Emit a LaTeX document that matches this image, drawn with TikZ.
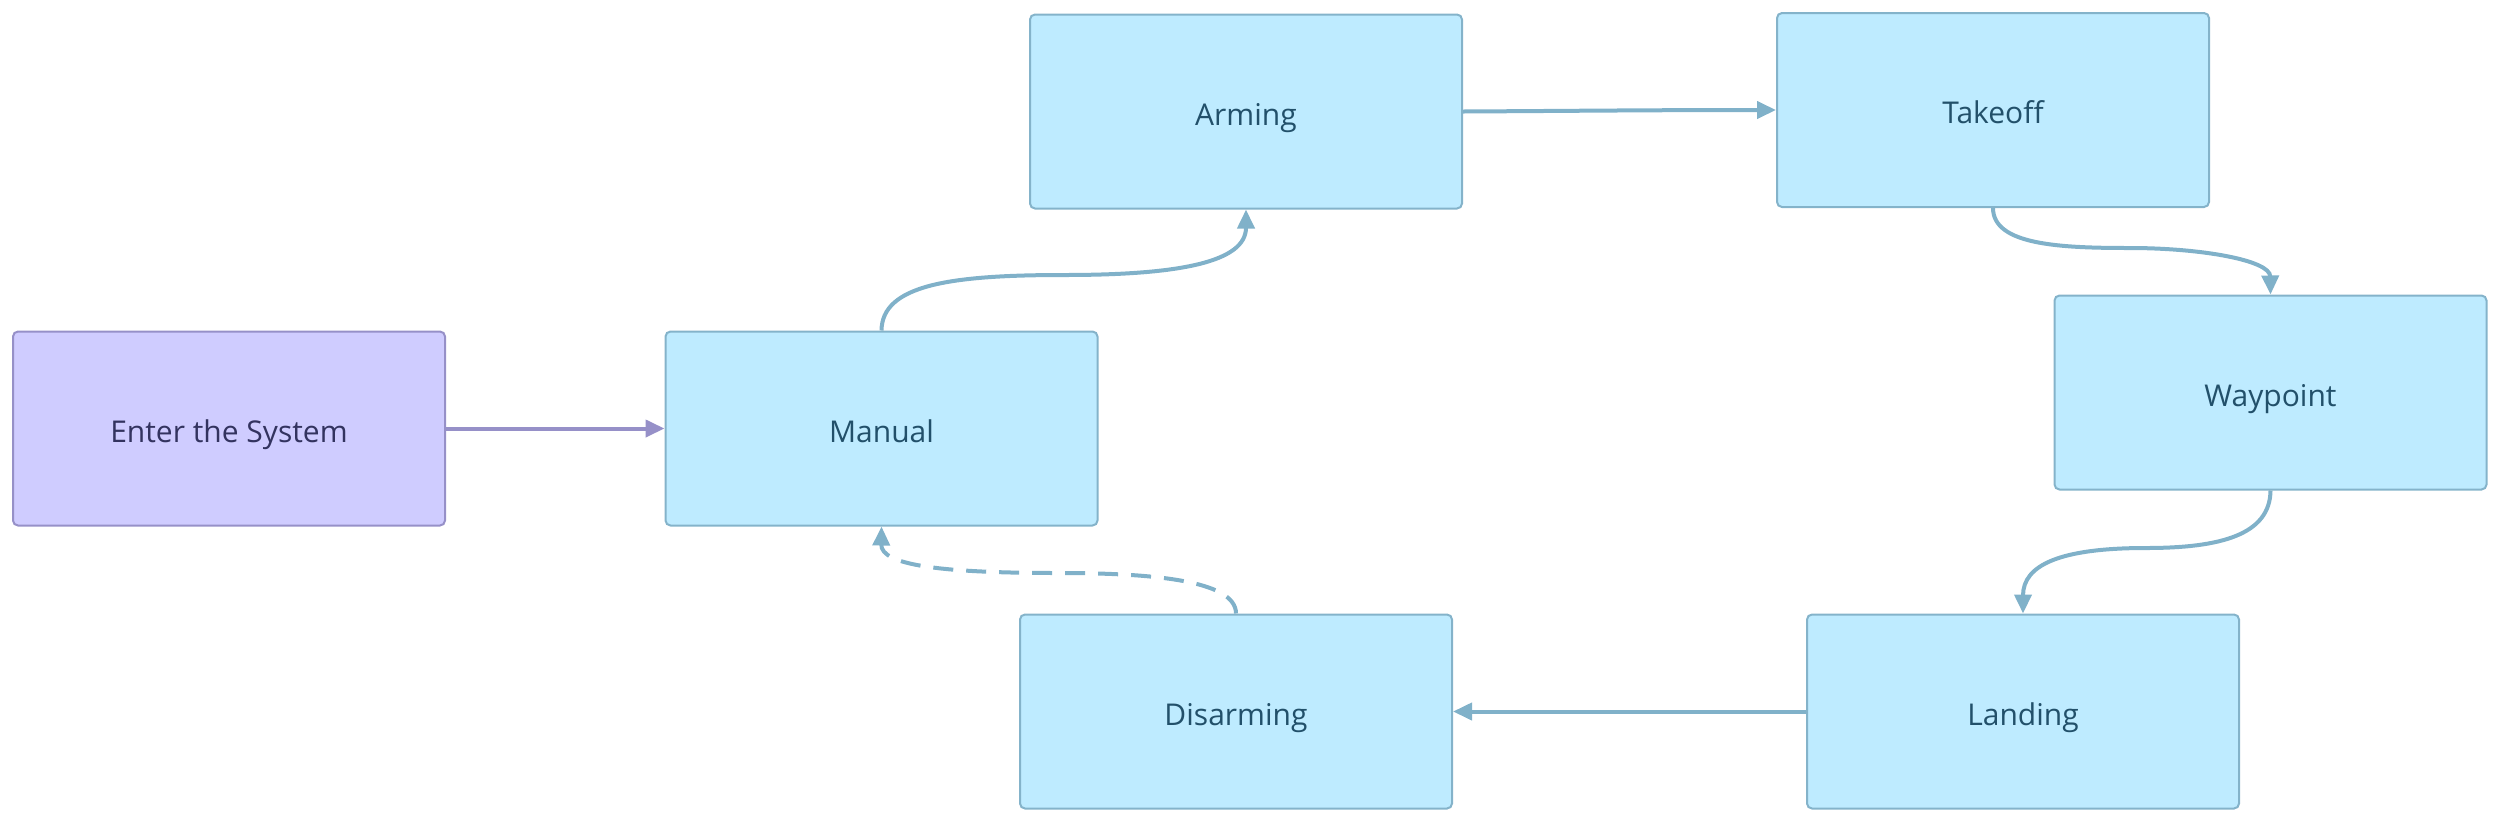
\documentclass[tikz,border=0pt]{standalone}
\usepackage{fontspec}
\setmainfont{Open Sans}
\usetikzlibrary{arrows.meta}
\definecolor{pfill}{HTML}{CFCCFF}
\definecolor{pline}{HTML}{9690C8}
\definecolor{ptext}{HTML}{33335F}
\definecolor{bfill}{HTML}{BEEBFF}
\definecolor{bline}{HTML}{84B3CA}
\definecolor{btext}{HTML}{22506A}
\definecolor{eline}{HTML}{80B1C9}
\tikzset{
  box/.style={draw=bline, fill=bfill, text=btext, line width=2pt, rounded corners=5pt,
    minimum width=432pt, minimum height=194pt, inner sep=0pt, text height=30pt, text depth=3pt,
    font=\fontsize{30}{36}\selectfont},
  startbox/.style={box, draw=pline, fill=pfill, text=ptext},
  conn/.style={draw=eline, line width=4pt, -{Triangle[length=19pt,width=17pt]}},
  pconn/.style={conn, draw=pline},
  dconn/.style={conn, dash pattern=on 20pt off 13pt},
}
\begin{document}
\begin{tikzpicture}[x=1pt,y=-1pt]
\useasboundingbox (0,0) rectangle (2499,823);
\node[startbox] (enter) at (229,428.5) {Enter the System};
\node[box] (manual) at (881.5,428.5) {Manual};
\node[box] (arming) at (1246,111.5) {Arming};
\node[box] (takeoff) at (1993,110) {Takeoff};
\node[box] (waypoint) at (2270.5,392.5) {Waypoint};
\node[box] (landing) at (2023,711.5) {Landing};
\node[box] (disarming) at (1236,711.5) {Disarming};

\draw[pconn] (enter.east) -- (manual.west);
\draw[conn] (manual.north) .. controls (882,285) and (950,275) .. (1064,275)
   .. controls (1180,275) and (1246,262) .. (arming.south);
\draw[conn] (arming.east) .. controls (1560,111) and (1650,110) .. (takeoff.west);
\draw[conn] (takeoff.south) .. controls (1993,245) and (2060,248) .. (2130,248)
   .. controls (2200,248) and (2270,260) .. (waypoint.north);
\draw[conn] (waypoint.south) .. controls (2270,535) and (2220,548) .. (2146,548)
   .. controls (2060,548) and (2023,565) .. (landing.north);
\draw[conn] (landing.west) -- (disarming.east);
\draw[dconn] (disarming.north) .. controls (1236,580) and (1150,573) .. (1058,573)
   .. controls (940,573) and (881,565) .. (manual.south);
\end{tikzpicture}
\end{document}
